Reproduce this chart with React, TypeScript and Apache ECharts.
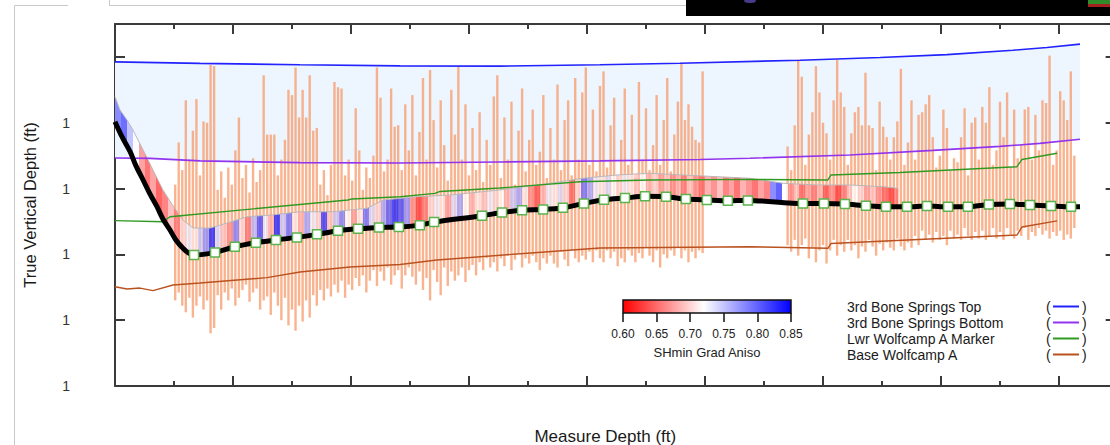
import React, { useEffect, useRef } from 'react';
import * as echarts from 'echarts';

// ---------- data (MD ft, TVD ft) ----------
const horizonNames = ['3rd Bone Springs Top', '3rd Bone Springs Bottom', 'Lwr Wolfcamp A Marker', 'Base Wolfcamp A'];
const horizonColors = ['#2222ff', '#9233ee', '#2e9a22', '#b9521f'];

const bone3TopLine: number[][] = [[10000, 10353.8], [10360, 10354.9], [10784, 10356], [11208, 10356.8], [11631, 10357], [12055, 10356], [12394, 10354.8], [12903, 10352.5], [13242, 10350.5], [13525, 10348.3], [13805, 10344.9], [13949, 10342.9], [14089, 10340.3]];
const bone3BottomLine: number[][] = [[10000, 10426.8], [10148, 10427.1], [10360, 10429], [10784, 10430.3], [11208, 10430.6], [11631, 10429.8], [12055, 10429], [12479, 10427.9], [12691, 10427], [13114, 10424.5], [13466, 10421], [13750, 10418], [13919, 10415.7], [14089, 10412.5]];
const lwrWolfcampLine: number[][] = [[10000, 10474.4], [10203, 10475.2], [10233, 10471.4], [10987, 10458.7], [11004, 10457.9], [11208, 10456.2], [11356, 10453.7], [11377, 10452.2], [11631, 10449.6], [11970, 10444.8], [12267, 10443.5], [12691, 10443], [13021, 10443.5], [13034, 10439.7], [13326, 10437.8], [13822, 10433.4], [13843, 10427.9], [13992, 10423.2]];
const baseWolfcampLine: number[][] = [[10000, 10524.6], [10051, 10526.3], [10106, 10525.6], [10161, 10527.5], [10246, 10523.3], [10360, 10521.8], [10644, 10517.7], [10784, 10513.4], [10996, 10509.6], [11208, 10507.7], [11364, 10504.3], [11703, 10499.7], [12055, 10495.2], [12691, 10494.2], [13021, 10495.4], [13034, 10491.7], [13822, 10485.3], [13843, 10479.2], [13992, 10474.6]];

const buildCurve: number[][] = [[10000, 10399.2], [10030, 10410.8], [10064, 10422], [10089, 10432.8], [10119, 10443.5], [10148, 10454.1], [10178, 10463.8], [10203, 10473.1], [10233, 10481.5], [10258, 10489.1], [10288, 10495.4], [10309, 10498.6]];
const surveyStations: number[][] = [[10335, 10500.5], [10424, 10498.5], [10508, 10494.2], [10597, 10491.2], [10682, 10489.1], [10771, 10487.1], [10856, 10484.8], [10945, 10482.1], [11030, 10480.6], [11119, 10479.5], [11203, 10479.3], [11292, 10477.8], [11352, 10475.5], [11555, 10470.7], [11640, 10468.2], [11725, 10466.4], [11814, 10465.9], [11898, 10464.6], [11987, 10461.3], [12072, 10458.5], [12161, 10457.2], [12246, 10455.9], [12335, 10456.2], [12419, 10458], [12508, 10458.7], [12597, 10459.3], [12682, 10459], [12915, 10461.3], [13004, 10461.3], [13093, 10461.8], [13182, 10463.1], [13267, 10463.9], [13356, 10463.9], [13441, 10463.3], [13530, 10463.9], [13614, 10463.9], [13703, 10462.1], [13792, 10461.7], [13877, 10462.5], [13966, 10463.2], [14051, 10463.8]];
const pathEnd: number[][] = [[14089, 10463.8]];

const fillTopLine: number[][] = [[10000, 10380.2], [10021, 10390.3], [10051, 10398], [10076, 10405.5], [10119, 10420.7], [10161, 10435.9], [10203, 10451.1], [10246, 10463.2], [10288, 10473.9], [10331, 10480], [10403, 10480], [10475, 10476.2], [10559, 10471.4], [10669, 10470], [10784, 10467.6], [10924, 10467.6], [11068, 10465], [11136, 10458.7], [11280, 10456.2], [11419, 10454.9], [11631, 10451.1], [11843, 10446], [11983, 10442.2], [12127, 10439.7], [12267, 10438.4], [12407, 10439.7], [12551, 10441], [12691, 10442.2], [12831, 10446], [12975, 10447.3], [13114, 10447.3], [13254, 10448.6], [13318, 10449.8]];

// [MD, SHmin grad aniso]
const anisoSamples: number[][] = [
  [10000, 0.8], [10025, 0.82], [10050, 0.76], [10075, 0.72], [10100, 0.66], [10125, 0.63], [10150, 0.66], [10175, 0.62], [10200, 0.64], [10225, 0.68],
  [10250, 0.65], [10275, 0.7], [10300, 0.73], [10325, 0.71], [10350, 0.75], [10375, 0.78], [10400, 0.84], [10425, 0.74], [10450, 0.69], [10475, 0.66],
  [10500, 0.79], [10525, 0.7], [10550, 0.65], [10575, 0.76], [10600, 0.82], [10625, 0.73], [10650, 0.68], [10675, 0.84], [10700, 0.75], [10725, 0.8],
  [10750, 0.71], [10775, 0.68], [10800, 0.77], [10825, 0.73], [10850, 0.7], [10875, 0.83], [10900, 0.69], [10925, 0.75], [10950, 0.79], [10975, 0.72],
  [11000, 0.67], [11025, 0.71], [11050, 0.8], [11075, 0.74], [11100, 0.7], [11125, 0.77], [11150, 0.81], [11175, 0.84], [11200, 0.82], [11225, 0.78],
  [11250, 0.66], [11275, 0.62], [11300, 0.65], [11325, 0.7], [11350, 0.73], [11375, 0.71], [11400, 0.67], [11425, 0.74], [11450, 0.77], [11475, 0.72],
  [11500, 0.68], [11525, 0.71], [11550, 0.69], [11575, 0.73], [11600, 0.7], [11625, 0.72], [11650, 0.68], [11675, 0.75], [11700, 0.77], [11725, 0.71],
  [11750, 0.66], [11775, 0.63], [11800, 0.68], [11825, 0.73], [11850, 0.71], [11875, 0.74], [11900, 0.7], [11925, 0.64], [11950, 0.7], [11975, 0.8],
  [12000, 0.77], [12025, 0.73], [12050, 0.71], [12075, 0.74], [12100, 0.72], [12125, 0.7], [12150, 0.73], [12175, 0.71], [12200, 0.69], [12225, 0.72],
  [12250, 0.68], [12275, 0.7], [12300, 0.67], [12325, 0.69], [12350, 0.66], [12375, 0.68], [12400, 0.65], [12425, 0.69], [12450, 0.66], [12475, 0.64],
  [12500, 0.67], [12525, 0.65], [12550, 0.68], [12575, 0.64], [12600, 0.66], [12625, 0.63], [12650, 0.67], [12675, 0.65], [12700, 0.63], [12725, 0.66],
  [12750, 0.64], [12775, 0.8], [12800, 0.83], [12825, 0.72], [12850, 0.66], [12875, 0.69], [12900, 0.64], [12925, 0.67], [12950, 0.65], [12975, 0.68],
  [13000, 0.63], [13025, 0.66], [13050, 0.62], [13075, 0.65], [13100, 0.69], [13125, 0.72], [13150, 0.7], [13175, 0.67], [13200, 0.69], [13225, 0.66],
  [13250, 0.64], [13275, 0.62], [13300, 0.65], [13318, 0.65]
];

// [MD, top TVD, bottom TVD]
const logBars: number[][] = [
  [10255, 10447, 10535], [10270, 10415, 10529], [10285, 10436, 10539], [10300, 10383, 10544], [10315, 10428, 10533], [10330, 10406, 10548], [10345, 10382, 10539], [10360, 10440, 10532], [10375, 10399, 10542], [10390, 10400, 10535],
  [10405, 10356, 10560], [10420, 10357, 10556], [10435, 10451, 10531], [10450, 10437, 10542], [10465, 10457, 10529], [10480, 10434, 10535], [10495, 10447, 10526], [10510, 10421, 10539], [10525, 10396, 10533], [10540, 10442, 10527],
  [10555, 10432, 10523], [10570, 10453, 10536], [10585, 10427, 10529], [10600, 10445, 10526], [10615, 10436, 10542], [10630, 10364, 10535], [10645, 10409, 10532], [10660, 10409, 10546], [10675, 10409, 10529], [10690, 10440, 10539],
  [10705, 10428, 10550], [10720, 10413, 10533], [10735, 10375, 10554], [10750, 10379, 10542], [10765, 10358, 10558], [10780, 10396, 10539], [10795, 10375, 10551], [10810, 10396, 10535], [10825, 10364, 10548], [10840, 10406, 10531],
  [10855, 10404, 10539], [10870, 10447, 10527], [10885, 10436, 10535], [10900, 10455, 10526], [10915, 10432, 10532], [10930, 10369, 10523], [10945, 10373, 10529], [10960, 10374, 10520], [10975, 10440, 10533], [10990, 10428, 10523],
  [11005, 10444, 10527], [11020, 10389, 10518], [11035, 10421, 10524], [11050, 10451, 10516], [11065, 10434, 10529], [11080, 10442, 10520], [11095, 10425, 10512], [11110, 10358, 10524], [11125, 10381, 10513], [11140, 10437, 10520],
  [11155, 10428, 10510], [11170, 10374, 10523], [11185, 10403, 10516], [11200, 10402, 10512], [11215, 10436, 10526], [11230, 10386, 10516], [11245, 10421, 10510], [11260, 10379, 10517], [11275, 10440, 10523], [11290, 10407, 10513],
  [11305, 10366, 10527], [11320, 10428, 10518], [11335, 10360, 10535], [11350, 10398, 10512], [11365, 10434, 10521], [11380, 10383, 10531], [11395, 10417, 10510], [11410, 10444, 10524], [11425, 10375, 10513], [11440, 10409, 10520],
  [11455, 10357, 10516], [11470, 10428, 10510], [11485, 10386, 10521], [11500, 10440, 10512], [11515, 10404, 10508], [11530, 10436, 10516], [11545, 10392, 10506], [11560, 10445, 10512], [11575, 10413, 10503], [11590, 10432, 10510],
  [11605, 10380, 10506], [11620, 10364, 10513], [11635, 10442, 10503], [11650, 10396, 10509], [11665, 10428, 10501], [11680, 10384, 10512], [11695, 10447, 10504], [11710, 10406, 10499], [11725, 10374, 10510], [11740, 10437, 10503],
  [11755, 10413, 10507], [11770, 10390, 10501], [11785, 10432, 10506], [11800, 10422, 10512], [11815, 10379, 10503], [11830, 10442, 10507], [11845, 10404, 10501], [11860, 10428, 10507], [11875, 10371, 10510], [11890, 10436, 10498],
  [11905, 10398, 10504], [11920, 10383, 10509], [11935, 10440, 10497], [11950, 10366, 10503], [11965, 10428, 10506], [11980, 10377, 10501], [11995, 10358, 10504], [12010, 10432, 10498], [12025, 10390, 10506], [12040, 10437, 10497],
  [12055, 10372, 10503], [12070, 10361, 10506], [12085, 10434, 10497], [12100, 10402, 10503], [12115, 10381, 10498], [12130, 10440, 10509], [12145, 10413, 10503], [12160, 10374, 10506], [12175, 10432, 10497], [12190, 10394, 10501],
  [12205, 10442, 10506], [12220, 10369, 10499], [12235, 10428, 10503], [12250, 10389, 10495], [12265, 10436, 10501], [12280, 10417, 10506], [12295, 10379, 10497], [12310, 10432, 10510], [12325, 10398, 10500], [12340, 10366, 10503],
  [12355, 10437, 10497], [12370, 10409, 10501], [12385, 10384, 10495], [12400, 10355, 10503], [12415, 10398, 10497], [12430, 10386, 10506], [12445, 10403, 10498], [12460, 10413, 10503], [12475, 10415, 10497], [12490, 10361, 10499],
  [12850, 10418, 10493], [12865, 10436, 10498], [12880, 10402, 10489], [12895, 10352, 10501], [12910, 10365, 10493], [12925, 10432, 10488], [12940, 10409, 10503], [12955, 10392, 10495], [12970, 10357, 10506], [12985, 10377, 10497],
  [13000, 10400, 10493], [13015, 10408, 10507], [13030, 10428, 10497], [13045, 10383, 10489], [13060, 10352, 10501], [13075, 10377, 10493], [13090, 10388, 10498], [13105, 10432, 10489], [13120, 10408, 10497], [13135, 10392, 10493],
  [13150, 10388, 10503], [13165, 10402, 10494], [13180, 10362, 10498], [13195, 10402, 10489], [13210, 10404, 10494], [13225, 10436, 10501], [13240, 10384, 10492], [13255, 10403, 10497], [13270, 10411, 10491], [13285, 10428, 10495],
  [13300, 10411, 10497], [13315, 10399, 10488], [13330, 10359, 10494], [13345, 10432, 10497], [13360, 10415, 10491], [13375, 10383, 10495], [13390, 10428, 10486], [13405, 10394, 10493], [13420, 10392, 10482], [13435, 10386, 10489],
  [13450, 10379, 10485], [13465, 10411, 10491], [13480, 10434, 10483], [13495, 10425, 10489], [13510, 10390, 10486], [13525, 10404, 10493], [13540, 10436, 10482], [13555, 10427, 10488], [13570, 10430, 10485], [13585, 10411, 10489],
  [13600, 10389, 10480], [13615, 10440, 10486], [13630, 10400, 10489], [13645, 10396, 10483], [13660, 10428, 10488], [13675, 10388, 10482], [13690, 10400, 10489], [13705, 10373, 10486], [13720, 10432, 10480], [13735, 10421, 10488],
  [13750, 10384, 10483], [13765, 10411, 10489], [13780, 10377, 10480], [13795, 10434, 10485], [13810, 10390, 10488], [13825, 10427, 10482], [13840, 10417, 10486], [13855, 10390, 10480], [13870, 10388, 10489], [13885, 10428, 10483],
  [13900, 10394, 10486], [13915, 10421, 10480], [13930, 10383, 10485], [13945, 10385, 10482], [13960, 10349, 10488], [13975, 10432, 10483], [13990, 10421, 10486], [14005, 10376, 10482], [14020, 10383, 10489], [14035, 10398, 10485],
  [14050, 10361, 10488], [14065, 10425, 10480]
];

const yTickValues = [10350, 10400, 10450, 10500, 10550, 10600];
const yLabelValues = [10400, 10450, 10500, 10550, 10600];
const colorbarRange = [0.6, 0.85];
const anisoWhite = 0.72;

// ---------- helpers ----------
function anisoColor(v: number): string {
  const lo = colorbarRange[0], hi = colorbarRange[1];
  if (v <= anisoWhite) {
    const t = Math.max(0, (v - lo) / (anisoWhite - lo));
    const c = Math.round(255 * t);
    return `rgb(255,${c},${c})`;
  }
  const t = Math.min(1, (v - anisoWhite) / (hi - anisoWhite));
  const c = Math.round(255 * (1 - t));
  return `rgb(${c},${c},255)`;
}

const FONT = '"Liberation Sans", Arial, Helvetica, sans-serif';
const AXIS_COLOR = '#3a3a3a';
const W = 1130;
const H = 445;

export default function App() {
  const ref = useRef<HTMLDivElement>(null);

  useEffect(() => {
    if (!ref.current) return;
    const chart = echarts.init(ref.current, undefined, { renderer: 'svg' });
    const wellPath = buildCurve.concat(surveyStations, pathEnd);

    const mainX = (pos: string, withName: boolean): any => ({
      gridIndex: 0,
      type: 'value',
      position: pos,
      min: 10000,
      max: 14240,
      interval: 500,
      axisLine: { show: true, onZero: false, lineStyle: { color: AXIS_COLOR, width: 2 } },
      axisTick: { show: true, inside: true, length: 10, lineStyle: { color: AXIS_COLOR, width: 2 } },
      minorTick: { show: true, splitNumber: 2, length: 5, lineStyle: { color: AXIS_COLOR, width: 2 } },
      axisLabel: { show: false },
      splitLine: { show: false },
      minorSplitLine: { show: false },
      name: withName ? 'Measure Depth (ft)' : '',
      nameLocation: 'middle',
      nameGap: 42,
      nameTextStyle: { fontSize: 17, color: '#1a1a1a', fontFamily: FONT, padding: [0, 20, 0, 0] },
    });

    const mainY = (pos: string, withLabels: boolean): any => ({
      gridIndex: 0,
      type: 'value',
      position: pos,
      inverse: true,
      min: 10325,
      max: 10600,
      axisLine: { show: true, onZero: false, lineStyle: { color: AXIS_COLOR, width: 2 } },
      axisTick: { show: true, inside: true, length: 10, customValues: yTickValues, lineStyle: { color: AXIS_COLOR, width: 2 } },
      axisLabel: withLabels
        ? { show: true, customValues: yLabelValues, formatter: () => '1', margin: 45, fontSize: 14, color: '#333', fontFamily: FONT }
        : { show: false },
      splitLine: { show: false },
      name: withLabels ? 'True Vertical Depth (ft)' : '',
      nameLocation: 'middle',
      nameGap: 77,
      nameRotate: 90,
      nameTextStyle: { fontSize: 16.5, color: '#1a1a1a', fontFamily: FONT },
    });

    const legendFont = '14px "Liberation Sans", Arial, sans-serif';
    const legendGraphics: any[] = [];
    horizonNames.forEach((name, i) => {
      const y = 306.5 + i * 16;
      legendGraphics.push(
        { type: 'text', silent: true, style: { text: name, x: 847, y, fill: '#1a1a1a', font: legendFont, verticalAlign: 'middle', align: 'left' } },
        { type: 'text', silent: true, style: { text: '(', x: 1046, y, fill: '#1a1a1a', font: legendFont, verticalAlign: 'middle', align: 'left' } },
        { type: 'line', silent: true, shape: { x1: 1053, y1: y, x2: 1079, y2: y }, style: { stroke: horizonColors[i], lineWidth: 2 } },
        { type: 'text', silent: true, style: { text: ')', x: 1082, y, fill: '#1a1a1a', font: legendFont, verticalAlign: 'middle', align: 'left' } }
      );
    });

    const decor: any[] = [
      { type: 'line', silent: true, shape: { x1: 14.5, y1: 5.5, x2: 14.5, y2: 445 }, style: { stroke: '#c8c8c8', lineWidth: 1 } },
      { type: 'line', silent: true, shape: { x1: 14.5, y1: 5.5, x2: 68, y2: 5.5 }, style: { stroke: '#c8c8c8', lineWidth: 1 } },
      { type: 'line', silent: true, shape: { x1: 109.5, y1: 0, x2: 109.5, y2: 5.5 }, style: { stroke: '#c8c8c8', lineWidth: 1 } },
      { type: 'line', silent: true, shape: { x1: 109.5, y1: 5.5, x2: 686, y2: 5.5 }, style: { stroke: '#c8c8c8', lineWidth: 1 } },
      { type: 'rect', silent: true, shape: { x: 686, y: 0, width: 444, height: 16 }, style: { fill: '#000' } },
      { type: 'ellipse', silent: true, shape: { cx: 750, cy: 1, rx: 6, ry: 2 }, style: { fill: '#4a3a8a' } },
      { type: 'rect', silent: true, shape: { x: 1088, y: 0, width: 42, height: 4 }, style: { fill: '#2f8a2a' } },
      { type: 'rect', silent: true, shape: { x: 1088, y: 4, width: 42, height: 3 }, style: { fill: '#a42020' } },
    ];

    const interpPath = (md: number): number => {
      for (let i = 0; i < wellPath.length - 1; i++) {
        const a = wellPath[i], b = wellPath[i + 1];
        if (md >= a[0] && md <= b[0]) return a[1] + ((md - a[0]) / (b[0] - a[0])) * (b[1] - a[1]);
      }
      return wellPath[wellPath.length - 1][1];
    };

    const option: any = {
      animation: false,
      backgroundColor: '#ffffff',
      textStyle: { fontFamily: FONT },
      grid: [
        { left: 115, top: 24, right: W - 1115.64, bottom: H - 386, show: false, containLabel: false, outerBoundsMode: 'none' },
        {
          left: 623, top: 300, width: 168, height: 13, show: true, borderColor: '#111', borderWidth: 1.5, containLabel: false, outerBoundsMode: 'none',
          backgroundColor: new echarts.graphic.LinearGradient(0, 0, 1, 0, [
            { offset: 0, color: anisoColor(colorbarRange[0]) },
            { offset: (anisoWhite - colorbarRange[0]) / (colorbarRange[1] - colorbarRange[0]), color: '#ffffff' },
            { offset: 1, color: anisoColor(colorbarRange[1]) },
          ]),
        },
      ],
      xAxis: [
        mainX('bottom', true),
        mainX('top', false),
        {
          gridIndex: 1, type: 'value', position: 'bottom', min: colorbarRange[0], max: colorbarRange[1], interval: 0.05,
          axisLine: { show: false },
          axisTick: { show: true, inside: false, length: 9, lineStyle: { color: '#111', width: 1.5 } },
          axisLabel: { show: true, formatter: (v: number) => v.toFixed(2), fontSize: 12, color: '#222', margin: 15, fontFamily: FONT },
          splitLine: { show: false },
          name: 'SHmin Grad Aniso', nameLocation: 'middle', nameGap: 33,
          nameTextStyle: { fontSize: 13, color: '#222', fontFamily: FONT },
        },
      ],
      yAxis: [
        mainY('left', true),
        mainY('right', false),
        { gridIndex: 1, type: 'value', min: 0, max: 1, show: false },
      ],
      graphic: decor.concat(legendGraphics),
      series: [
        {
          name: 'formation band', type: 'custom', xAxisIndex: 0, yAxisIndex: 0, z: 1, silent: true,
          data: [bone3TopLine[0]],
          renderItem: (params: any, api: any) => {
            if (params.dataIndex !== 0) return null;
            const pts = bone3TopLine.map((p) => api.coord(p)).concat(bone3BottomLine.slice().reverse().map((p) => api.coord(p)));
            return { type: 'polygon', shape: { points: pts }, style: { fill: '#edf6fe' } };
          },
        },
        {
          name: 'log bars', type: 'custom', xAxisIndex: 0, yAxisIndex: 0, z: 2, silent: true,
          data: logBars,
          encode: { x: 0, y: [1, 2] },
          renderItem: (params: any, api: any) => {
            const a = api.coord([api.value(0), api.value(1)]);
            const b = api.coord([api.value(0), api.value(2)]);
            return { type: 'rect', shape: { x: a[0] - 1.2, y: a[1], width: 2.4, height: b[1] - a[1] }, style: { fill: '#f79d70', opacity: 0.78 } };
          },
        },
        {
          name: 'SHmin Grad Aniso', type: 'custom', xAxisIndex: 0, yAxisIndex: 0, z: 3, silent: true,
          data: [fillTopLine[0]],
          renderItem: (params: any, api: any) => {
            if (params.dataIndex !== 0) return null;
            const firstMd = fillTopLine[0][0];
            const lastMd = fillTopLine[fillTopLine.length - 1][0];
            const top = fillTopLine.map((p) => api.coord(p));
            const inner = wellPath.filter((p) => p[0] > firstMd && p[0] < lastMd);
            const bottomData = [[firstMd, interpPath(firstMd)]].concat(inner, [[lastMd, interpPath(lastMd)]]);
            const bottom = bottomData.map((p) => api.coord(p)).reverse();
            const x0 = api.coord([anisoSamples[0][0], 10400])[0];
            const x1 = api.coord([anisoSamples[anisoSamples.length - 1][0], 10400])[0];
            const stops: any[] = [];
            for (let i = 0; i < anisoSamples.length - 1; i++) {
              const o0 = (api.coord([anisoSamples[i][0], 10400])[0] - x0) / (x1 - x0);
              const o1 = (api.coord([anisoSamples[i + 1][0], 10400])[0] - x0) / (x1 - x0);
              const c = anisoColor(anisoSamples[i][1]);
              stops.push({ offset: o0, color: c }, { offset: o1, color: c });
            }
            return {
              type: 'group',
              children: [
                { type: 'polygon', shape: { points: top.concat(bottom) }, style: { fill: new echarts.graphic.LinearGradient(x0, 0, x1, 0, stops, true), opacity: 0.72 } },
                { type: 'polyline', shape: { points: top }, style: { stroke: '#b9b9b9', lineWidth: 1, fill: 'none' } },
              ],
            };
          },
        },
        { name: horizonNames[0], type: 'line', z: 4, data: bone3TopLine, showSymbol: false, lineStyle: { color: horizonColors[0], width: 1.6 }, silent: true },
        { name: horizonNames[1], type: 'line', z: 4, data: bone3BottomLine, showSymbol: false, lineStyle: { color: horizonColors[1], width: 1.6 }, silent: true },
        { name: horizonNames[2], type: 'line', z: 4, data: lwrWolfcampLine, showSymbol: false, lineStyle: { color: horizonColors[2], width: 1.4 }, silent: true },
        { name: horizonNames[3], type: 'line', z: 4, data: baseWolfcampLine, showSymbol: false, lineStyle: { color: horizonColors[3], width: 1.4 }, silent: true },
        { name: 'Well path', type: 'line', z: 5, data: wellPath, showSymbol: false, smooth: 0.3, lineStyle: { color: '#000', width: 5 }, silent: true },
        {
          name: 'Survey stations', type: 'scatter', z: 6, data: surveyStations, symbol: 'rect', symbolSize: 9,
          itemStyle: { color: '#ffffff', borderColor: '#5cb44e', borderWidth: 1.5, opacity: 1 }, silent: true,
        },
      ],
    };

    chart.setOption(option);
    return () => chart.dispose();
  }, []);

  return (
    <div style={{ position: 'fixed', left: 0, top: 0, width: 1110, height: H, overflow: 'hidden', background: '#fff' }}>
      <div ref={ref} style={{ width: W, height: H }} />
    </div>
  );
}
